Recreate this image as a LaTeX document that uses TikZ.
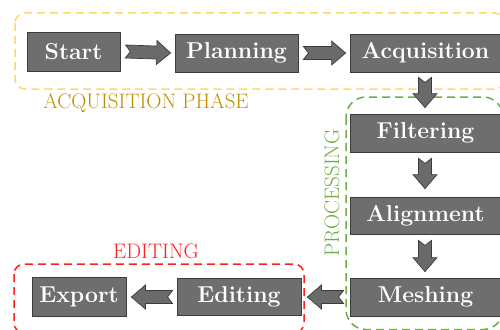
\documentclass[tikz,border=0pt]{standalone}
\usetikzlibrary{calc}
\definecolor{boxfill}{HTML}{6E6E6E}
\definecolor{boxedge}{HTML}{3C3C3C}
\definecolor{arrowfill}{HTML}{6A6A6A}
\definecolor{yellowline}{HTML}{FFD966}
\definecolor{goldtext}{HTML}{BF9000}
\definecolor{greenline}{HTML}{70AD47}
\definecolor{redline}{HTML}{FF2020}
\tikzset{
  stepbox/.style={draw=boxedge, fill=boxfill, text=white, line width=0.8pt,
    font=\fontsize{23}{26}\selectfont\bfseries, inner sep=0pt},
  fat/.style={draw=boxedge, fill=arrowfill, line width=0.7pt, line join=miter,
    to path={let \p1=(\tikztostart), \p2=(\tikztotarget),
      \n1={atan2(\y2-\y1,\x2-\x1)}, \n2={veclen(\x2-\x1,\y2-\y1)}, \n3={\n2-14pt} in
      ($(\p1)+(\n1+90:6.5pt)$) -- ($(\p1)+(\n1:\n3)+(\n1+90:6.5pt)$)
      -- ($(\p1)+(\n1:\n3)+(\n1+90:12pt)$) -- (\p2)
      -- ($(\p1)+(\n1:\n3)+(\n1-90:12pt)$) -- ($(\p1)+(\n1:\n3)+(\n1-90:6.5pt)$)
      -- ($(\p1)+(\n1-90:6.5pt)$) -- ($(\p1)+(\n1:5pt)$) -- cycle}},
  region/.style={dash pattern=on 8pt off 5pt, line width=1.5pt},
  phase/.style={font=\fontsize{21}{24}\selectfont, inner sep=0pt}
}
\begin{document}
\begin{tikzpicture}[x=1pt,y=-1pt]
\useasboundingbox (0,0) rectangle (500,329);
\clip (0,0) rectangle (500,329);
\fill[white] (0,0) rectangle (500,329);
% regions
\draw[region, draw=yellowline, rounded corners=10pt] (15,13) rectangle (505,89);
\draw[region, draw=greenline, rounded corners=20pt] (346,97) rectangle (503,329.5);
\draw[region, draw=redline, rounded corners=10pt] (14,264) rectangle (304,333);
\node[phase, text=goldtext] (lacq) at (146,103.5) {ACQUISITION PHASE};
\node[phase, text=greenline, rotate=90] (lproc) at (332,193) {PROCESSING};
\node[phase, text=redline] (ledit) at (156,251.5) {EDITING};
% boxes
\node[stepbox, minimum width=93pt, minimum height=39pt] (start) at (73.5,51.5) {Start};
\node[stepbox, minimum width=123pt, minimum height=38pt] (plan) at (236.5,53) {Planning};
\node[stepbox, minimum width=151pt, minimum height=38pt] (acq) at (425.5,53) {Acquisition};
\node[stepbox, minimum width=151pt, minimum height=38pt] (filt) at (425.5,133) {Filtering};
\node[stepbox, minimum width=151pt, minimum height=37pt] (align) at (425.5,215.5) {Alignment};
\node[stepbox, minimum width=151pt, minimum height=38pt] (mesh) at (425.5,297) {Meshing};
\node[stepbox, minimum width=124pt, minimum height=37pt] (edit) at (239,297) {Editing};
\node[stepbox, minimum width=94pt, minimum height=39pt] (export) at (79,297) {Export};
% arrows
\draw[fat] ([xshift=5pt]start.east) to ([xshift=-4pt]plan.west);
\draw[fat] ([xshift=5pt]plan.east) to ([xshift=-4pt]acq.west);
\draw[fat] ([xshift=-0.5pt,yshift=-5pt]acq.south) to ([xshift=-0.5pt,yshift=6pt]filt.north);
\draw[fat] ([xshift=-0.5pt,yshift=-6pt]filt.south) to ([xshift=-0.5pt,yshift=8pt]align.north);
\draw[fat] ([xshift=-0.5pt,yshift=-6pt]align.south) to ([xshift=-0.5pt,yshift=6pt]mesh.north);
\draw[fat] ([xshift=-6pt]mesh.west) to ([xshift=6pt]edit.east);
\draw[fat] ([xshift=-4pt]edit.west) to ([xshift=5pt]export.east);
\end{tikzpicture}
\end{document}
